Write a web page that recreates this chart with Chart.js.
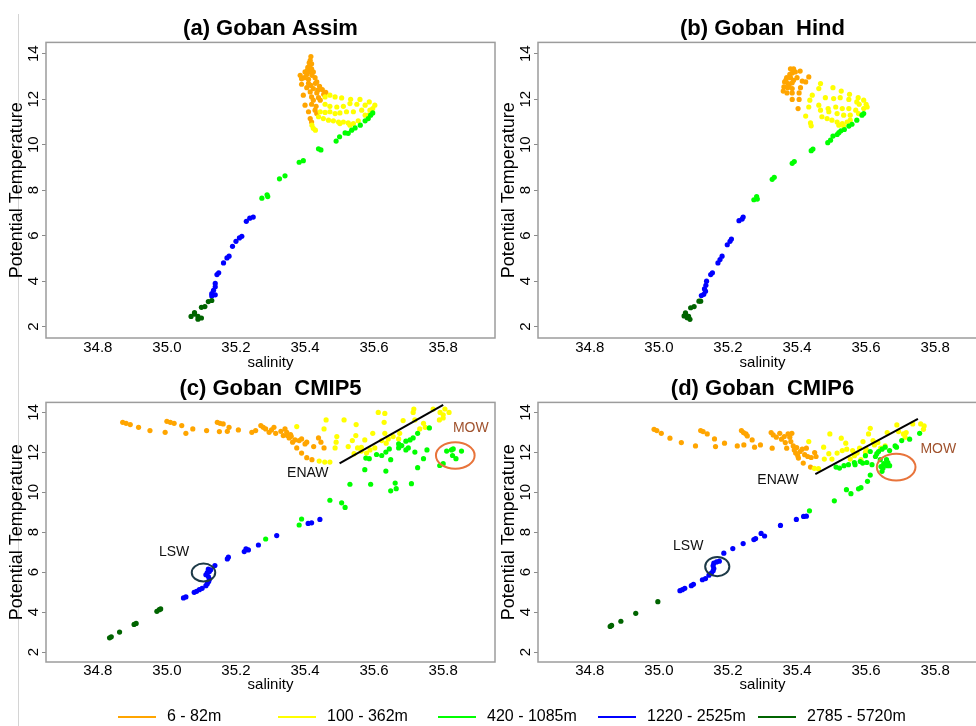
<!DOCTYPE html>
<html>
<head>
<meta charset="utf-8">
<title>Goban T-S diagrams</title>
<script src="https://cdn.jsdelivr.net/npm/chart.js@4.4.1/dist/chart.umd.min.js"></script>
<style>
  html, body { margin: 0; padding: 0; background: #fff; }
  #fig { position: relative; width: 976px; height: 726px; overflow: hidden; }
  #fig canvas { position: absolute; }
  #rule { position: absolute; left: 18px; top: 14px; width: 1px; height: 712px; background: #d4d4d4; }
</style>
</head>
<body>
<div id="fig">
  <div id="rule"></div>
  <canvas id="panelA" width="500" height="370" style="left:0;top:0"></canvas>
  <canvas id="panelB" width="500" height="370" style="left:492px;top:0"></canvas>
  <canvas id="panelC" width="500" height="332" style="left:0;top:360px"></canvas>
  <canvas id="panelD" width="500" height="332" style="left:492px;top:360px"></canvas>
  <canvas id="legendRow" width="976" height="36" style="left:0;top:690px"></canvas>
</div>
<script>
'use strict';
Chart.defaults.font.family = "'Liberation Sans', Arial, sans-serif";
Chart.defaults.color = '#000';

// axis ticks
var salTicks = [34.8, 35.0, 35.2, 35.4, 35.6, 35.8];
var tempTicks = [2, 4, 6, 8, 10, 12, 14];

// depth bands
var bandLabels = ['6 - 82m', '100 - 362m', '420 - 1085m', '1220 - 2525m', '2785 - 5720m'];
var bandColors = ['#FFA500', '#FFFF00', '#00FF00', '#0000FF', '#006400'];

/** (a) Assim: [salinity, theta] **/
var assim1 = [[35.417,13.88],[35.415,13.71],[35.412,13.6],[35.419,13.56],[35.413,13.45],[35.408,13.4],[35.419,13.34],[35.407,13.27],
  [35.415,13.2],[35.400,13.2],[35.424,13.2],[35.405,13.09],[35.42,13.05],[35.386,13.05],[35.398,12.95],[35.429,12.95],[35.390,12.9],
  [35.410,12.88],[35.434,12.76],[35.43,12.7],[35.41,12.7],[35.390,12.66],[35.417,12.61],[35.442,12.57],[35.405,12.51],[35.424,12.47],
  [35.450,12.42],[35.437,12.4],[35.415,12.32],[35.46,12.3],[35.434,12.28],[35.454,12.22],[35.395,12.18],[35.419,12.10],[35.439,12.07],
  [35.424,11.96],[35.444,11.96],[35.419,11.78],[35.400,11.74],[35.432,11.69],[35.429,11.52],[35.410,11.45],[35.434,11.37],[35.415,11.15],[35.419,11.00]];
var assim2 = [[35.458,12.10],[35.472,12.18],[35.487,12.10],[35.506,12.06],[35.532,12.00],[35.559,11.99],[35.586,11.88],[35.602,11.74],
  [35.458,11.78],[35.472,11.69],[35.492,11.66],[35.511,11.69],[35.530,11.81],[35.550,11.78],[35.574,11.74],[35.596,11.59],
  [35.444,11.45],[35.458,11.42],[35.472,11.45],[35.487,11.37],[35.501,11.40],[35.520,11.45],[35.540,11.45],[35.564,11.52],[35.588,11.52],
  [35.439,11.23],[35.453,11.15],[35.468,11.08],[35.482,11.05],[35.497,11.00],[35.511,11.00],[35.525,10.96],[35.540,10.93],[35.554,11.05],
  [35.574,11.30],[35.583,11.30],[35.420,10.86],[35.424,10.72],[35.430,10.64],[35.501,10.93],[35.530,10.86]];
var assim3 = [[35.275,7.65],[35.290,7.80],[35.292,7.72],[35.326,8.50],[35.342,8.63],[35.383,9.23],[35.395,9.30],[35.439,9.82],[35.446,9.77],
  [35.490,10.16],[35.500,10.35],[35.516,10.52],[35.525,10.50],[35.535,10.64],[35.545,10.74],[35.560,10.86],[35.574,11.05],[35.583,11.15],
  [35.590,11.30],[35.596,11.40]];
var assim4 = [[35.130,3.35],[35.130,3.45],[35.140,3.40],[35.135,3.60],[35.140,3.75],[35.140,3.90],[35.145,4.29],[35.150,4.37],[35.164,4.80],
  [35.174,5.02],[35.180,5.10],[35.190,5.53],[35.200,5.75],[35.210,5.90],[35.217,5.97],[35.230,6.63],[35.240,6.77],[35.250,6.82]];
var assim5 = [[35.070,2.45],[35.080,2.55],[35.080,2.62],[35.090,2.45],[35.090,2.33],[35.100,2.38],[35.100,2.85],[35.110,2.88],[35.120,3.10],[35.130,3.15]];

/** (b) Hind **/
var hind1 = [[35.381,13.34],[35.390,13.34],[35.386,13.15],[35.379,13.09],[35.395,13.20],[35.409,13.24],[35.370,12.95],[35.381,12.95],
  [35.390,12.83],[35.400,12.95],[35.434,12.98],[35.425,12.76],[35.364,12.76],[35.374,12.69],[35.386,12.72],[35.362,12.54],[35.373,12.51],
  [35.386,12.47],[35.410,12.51],[35.360,12.36],[35.371,12.28],[35.386,12.28],[35.406,12.28],[35.386,11.99],[35.406,11.99],[35.403,11.59],
  [35.415,12.80],[35.377,12.62],[35.368,12.85]];
var hind2 = [[35.468,12.69],[35.463,12.47],[35.504,12.51],[35.528,12.36],[35.552,12.22],[35.577,12.07],[35.593,11.96],
  [35.444,12.18],[35.482,12.07],[35.506,12.03],[35.525,12.07],[35.550,11.99],[35.573,11.88],[35.600,11.78],[35.580,11.78],
  [35.437,11.96],[35.463,11.74],[35.490,11.59],[35.512,11.66],[35.531,11.59],[35.550,11.59],[35.570,11.52],[35.593,11.59],[35.603,11.66],
  [35.434,11.66],[35.468,11.52],[35.492,11.45],[35.516,11.37],[35.535,11.30],[35.554,11.30],[35.578,11.37],
  [35.425,11.26],[35.472,11.23],[35.487,11.15],[35.501,11.08],[35.516,11.00],[35.531,10.93],[35.545,11.00],[35.554,11.08],
  [35.439,10.96],[35.441,10.83],[35.521,10.86],[35.535,10.82]];
var hind3 = [[35.275,7.58],[35.283,7.72],[35.285,7.61],[35.328,8.48],[35.334,8.57],[35.386,9.18],[35.392,9.26],[35.441,9.74],[35.446,9.81],
  [35.489,10.09],[35.497,10.20],[35.504,10.38],[35.516,10.45],[35.521,10.53],[35.527,10.61],[35.537,10.67],[35.550,10.82],[35.559,10.90],
  [35.573,11.08],[35.588,11.30],[35.593,11.37]];
var hind4 = [[35.123,3.37],[35.130,3.42],[35.135,3.56],[35.132,3.66],[35.136,3.82],[35.138,4.00],[35.150,4.29],[35.155,4.37],[35.171,4.80],
  [35.177,4.95],[35.183,5.10],[35.198,5.60],[35.206,5.75],[35.210,5.85],[35.232,6.66],[35.241,6.73],[35.244,6.82]];
var hind5 = [[35.073,2.47],[35.077,2.61],[35.082,2.39],[35.090,2.32],[35.092,2.83],[35.102,2.88],[35.116,3.12],[35.121,3.12],[35.078,2.52],[35.086,2.45]];

/** (c) CMIP5 **/
var cmip5_1 = [[34.872,13.50],[34.882,13.45],[34.894,13.39],[34.918,13.25],[34.951,13.09],[34.995,13.00],[35.000,13.55],[35.010,13.50],
  [35.021,13.45],[35.043,13.34],[35.055,12.95],[35.075,13.17],[35.115,13.09],[35.146,13.50],[35.154,13.45],[35.152,13.04],[35.163,13.42],
  [35.175,13.05],[35.180,13.25],[35.207,13.12],[35.246,13.00],[35.257,13.09],[35.272,13.34],[35.279,13.25],[35.286,13.17],[35.296,13.00],
  [35.303,13.12],[35.310,13.25],[35.315,12.95],[35.330,13.05],[35.342,13.17],[35.347,13.00],[35.349,12.84],[35.354,12.72],[35.358,12.89],
  [35.364,12.51],[35.371,12.62],[35.376,12.22],[35.383,12.59],[35.390,12.67],[35.390,11.96],[35.400,12.42],[35.405,12.51],[35.405,11.73],
  [35.420,11.63],[35.425,12.29],[35.439,12.72],[35.446,12.51],[35.455,12.22],[35.337,12.84],[35.360,12.80]];
var cmip5_2 = [[35.376,13.29],[35.441,11.56],[35.457,11.51],[35.472,11.51],[35.461,13.62],[35.455,13.17],[35.487,12.22],[35.490,12.51],
  [35.492,12.79],[35.513,13.62],[35.525,12.29],[35.537,12.59],[35.547,12.84],[35.548,13.39],[35.552,12.22],[35.563,12.25],[35.573,12.62],
  [35.578,11.96],[35.588,12.12],[35.596,12.95],[35.602,12.22],[35.612,14.00],[35.622,12.59],[35.629,13.50],[35.631,13.95],[35.631,12.95],
  [35.635,12.46],[35.641,12.67],[35.655,12.79],[35.671,12.67],[35.674,12.95],[35.684,13.59],[35.713,14.00],[35.715,14.17],[35.718,13.62],
  [35.732,13.17],[35.743,13.45],[35.748,13.25],[35.771,14.17],[35.789,13.62],[35.791,14.00],[35.800,13.72],[35.805,14.17],[35.817,14.00],
  [35.800,13.88],[35.542,11.93],[35.563,12.06]];
var cmip5_3 = [[35.286,7.66],[35.383,8.36],[35.390,8.66],[35.472,9.60],[35.506,9.47],[35.516,9.24],[35.530,10.40],[35.590,10.40],
  [35.573,11.13],[35.576,11.71],[35.586,11.68],[35.607,11.89],[35.622,11.84],[35.634,12.01],[35.634,11.06],[35.644,12.17],[35.648,11.63],
  [35.648,10.07],[35.661,10.46],[35.664,10.18],[35.671,12.42],[35.671,12.22],[35.692,12.56],[35.692,12.12],[35.699,12.22],[35.704,12.62],
  [35.708,10.43],[35.718,12.01],[35.726,12.95],[35.726,11.23],[35.743,11.68],[35.753,12.12],[35.760,13.22],[35.790,11.34],[35.800,11.43],
  [35.810,12.06],[35.824,12.12],[35.827,11.84],[35.837,11.68],[35.853,12.06],[35.829,12.17],[35.713,12.72],[35.680,12.34]];
var cmip5_4 = [[35.048,4.71],[35.055,4.76],[35.079,4.99],[35.086,5.04],[35.094,5.12],[35.102,5.19],[35.113,5.32],[35.117,5.42],[35.121,5.53],
  [35.123,5.65],[35.120,5.78],[35.113,5.87],[35.117,5.98],[35.123,6.03],[35.120,6.15],[35.127,6.12],[35.139,6.33],[35.175,6.66],[35.178,6.75],
  [35.224,7.03],[35.229,7.16],[35.236,7.11],[35.265,7.36],[35.318,7.83],[35.409,8.44],[35.419,8.47],[35.443,8.64]];
var cmip5_5 = [[34.834,2.71],[34.839,2.76],[34.863,3.00],[34.905,3.38],[34.911,3.43],[34.971,4.04],[34.978,4.12],[34.982,4.16]];

/** (d) CMIP6 **/
var cmip6_1 = [[34.986,13.15],[34.994,13.09],[35.007,12.95],[35.032,12.71],[35.065,12.49],[35.106,12.32],[35.121,13.09],[35.128,13.04],
  [35.140,12.92],[35.161,12.67],[35.164,12.29],[35.190,12.46],[35.227,12.32],[35.239,13.09],[35.245,12.99],[35.252,12.92],[35.256,12.82],
  [35.246,12.37],[35.270,12.62],[35.277,12.26],[35.294,12.37],[35.325,12.99],[35.331,12.87],[35.328,12.21],[35.340,12.76],[35.350,12.95],
  [35.355,12.66],[35.363,12.79],[35.366,12.49],[35.370,12.21],[35.374,12.92],[35.379,12.76],[35.382,12.54],[35.389,12.32],[35.392,12.12],
  [35.396,11.96],[35.399,12.24],[35.404,11.71],[35.409,12.04],[35.415,12.16],[35.418,11.46],[35.422,11.88],[35.427,12.21],[35.431,11.79],
  [35.439,11.26],[35.441,11.74],[35.451,11.99],[35.455,11.79],[35.402,11.83],[35.385,12.95]];
var cmip6_2 = [[35.434,12.54],[35.477,12.26],[35.479,11.66],[35.492,11.93],[35.495,12.92],[35.501,11.66],[35.516,11.96],[35.528,12.71],
  [35.531,12.09],[35.541,12.46],[35.554,11.66],[35.561,12.09],[35.566,11.83],[35.574,11.96],[35.581,12.21],[35.585,11.63],[35.591,12.54],
  [35.598,12.00],[35.600,12.16],[35.607,12.92],[35.612,13.20],[35.620,12.59],[35.624,12.37],[35.634,12.49],[35.642,12.21],[35.655,12.32],
  [35.661,12.99],[35.689,13.37],[35.694,13.04],[35.708,12.92],[35.713,12.76],[35.716,12.99],[35.735,13.42],[35.758,13.42],[35.768,13.32],
  [35.766,13.15],[35.544,12.16],[35.450,11.20],[35.462,11.18]];
var cmip6_3 = [[35.436,9.07],[35.508,9.57],[35.543,10.13],[35.556,9.93],[35.578,10.17],[35.585,10.23],[35.604,10.55],[35.612,10.86],
  [35.513,11.26],[35.523,11.21],[35.536,11.33],[35.549,11.38],[35.566,11.49],[35.568,11.38],[35.583,11.54],[35.590,11.46],[35.602,11.49],
  [35.617,11.38],[35.627,11.79],[35.631,11.93],[35.636,12.04],[35.641,11.63],[35.643,11.29],[35.646,11.05],[35.649,11.21],[35.651,11.43],
  [35.659,11.63],[35.661,11.33],[35.663,11.49],[35.668,11.33],[35.668,12.09],[35.646,12.16],[35.655,12.26],[35.684,12.32],[35.688,12.26],
  [35.703,12.59],[35.726,12.66],[35.755,12.95],[35.598,11.83],[35.612,12.04]];
var cmip6_4 = [[35.061,5.07],[35.068,5.12],[35.075,5.19],[35.094,5.32],[35.100,5.39],[35.126,5.62],[35.135,5.68],[35.145,5.85],[35.152,5.95],
  [35.157,6.07],[35.159,6.18],[35.157,6.32],[35.159,6.45],[35.167,6.51],[35.175,6.55],[35.188,6.95],[35.214,7.18],[35.244,7.43],[35.275,7.63],
  [35.280,7.68],[35.296,7.94],[35.306,7.81],[35.352,8.34],[35.398,8.64],[35.419,8.79],[35.427,8.80]];
var cmip6_5 = [[34.859,3.28],[34.863,3.33],[34.890,3.54],[34.933,3.94],[34.997,4.52]];

// water-mass annotations (salinity, theta)
var cmip5Notes = {
  lines: [[[35.50, 11.45], [35.80, 14.38]]],
  rings: [
    { c: [35.106, 5.98], r: [0.034, 0.45], color: '#1d3a48' },
    { c: [35.835, 11.84], r: [0.056, 0.66], color: '#e8743b' }
  ],
  labels: [
    { text: 'ENAW', at: [35.408, 10.95], color: '#111' },
    { text: 'LSW', at: [35.021, 6.98], color: '#111' },
    { text: 'MOW', at: [35.880, 13.19], color: '#a0522d' }
  ]
};
var cmip6Notes = {
  lines: [[[35.453, 10.91], [35.75, 13.68]]],
  rings: [
    { c: [35.169, 6.28], r: [0.035, 0.48], color: '#1d3a48' },
    { c: [35.687, 11.26], r: [0.056, 0.67], color: '#e8743b' }
  ],
  labels: [
    { text: 'ENAW', at: [35.345, 10.59], color: '#111' },
    { text: 'LSW', at: [35.085, 7.29], color: '#111' },
    { text: 'MOW', at: [35.809, 12.16], color: '#a0522d' }
  ]
};

// grey box round the plotting region
var frame = {
  id: 'frame',
  beforeDatasetsDraw: function(chart) {
    var a = chart.chartArea, ctx = chart.ctx;
    ctx.save();
    ctx.strokeStyle = '#9c9c9c';
    ctx.lineWidth = 1.5;
    ctx.strokeRect(a.left, a.top, a.right - a.left, a.bottom - a.top);
    ctx.restore();
  }
};

function waterMasses(notes) {
  return {
    id: 'waterMasses',
    afterDatasetsDraw: function(chart) {
      var ctx = chart.ctx, sx = chart.scales.x, sy = chart.scales.y;
      ctx.save();
      notes.lines.forEach(function(l) {
        ctx.strokeStyle = '#000';
        ctx.lineWidth = 2;
        ctx.beginPath();
        ctx.moveTo(sx.getPixelForValue(l[0][0]), sy.getPixelForValue(l[0][1]));
        ctx.lineTo(sx.getPixelForValue(l[1][0]), sy.getPixelForValue(l[1][1]));
        ctx.stroke();
      });
      notes.rings.forEach(function(r) {
        var cx = sx.getPixelForValue(r.c[0]), cy = sy.getPixelForValue(r.c[1]);
        var rx = Math.abs(sx.getPixelForValue(r.c[0] + r.r[0]) - cx);
        var ry = Math.abs(sy.getPixelForValue(r.c[1] + r.r[1]) - cy);
        ctx.strokeStyle = r.color;
        ctx.lineWidth = 2;
        ctx.beginPath();
        ctx.ellipse(cx, cy, rx, ry, 0, 0, Math.PI * 2);
        ctx.stroke();
      });
      ctx.font = "14px 'Liberation Sans', Arial, sans-serif";
      ctx.textAlign = 'center';
      ctx.textBaseline = 'middle';
      notes.labels.forEach(function(t) {
        ctx.fillStyle = t.color;
        ctx.fillText(t.text, sx.getPixelForValue(t.at[0]), sy.getPixelForValue(t.at[1]));
      });
      ctx.restore();
    }
  };
}

function makePanel(id, title, bands, notes, axisH, tickPad) {
  var datasets = bands.map(function(pts, i) {
    return {
      label: bandLabels[i],
      data: pts.map(function(p) { return { x: p[0], y: p[1] }; }),
      backgroundColor: bandColors[i],
      borderWidth: 0,
      pointRadius: 2.6,
      order: bands.length - i
    };
  });
  var plugins = [frame];
  if (notes) plugins.push(waterMasses(notes));
  return new Chart(document.getElementById(id), {
    type: 'scatter',
    data: { datasets: datasets },
    options: {
      responsive: false,
      animation: false,
      events: [],
      layout: { padding: { left: 0, right: 5, top: 0, bottom: 0 } },
      plugins: {
        legend: { display: false },
        tooltip: { enabled: false },
        title: {
          display: true,
          text: title,
          fullSize: false,
          color: '#000',
          font: { size: 22, weight: 'bold' },
          padding: { top: 16, bottom: 0 }
        }
      },
      scales: {
        x: {
          type: 'linear',
          min: 34.65,
          max: 35.95,
          afterBuildTicks: function(s) { s.ticks = salTicks.map(function(v) { return { value: v }; }); },
          afterFit: function(s) { s.height = axisH; },
          grid: { display: false },
          border: { display: false },
          ticks: {
            font: { size: 15 },
            padding: tickPad,
            maxRotation: 0,
            autoSkip: false,
            callback: function(v) { return v.toFixed(1); }
          },
          title: { display: true, text: 'salinity', font: { size: 15 }, padding: { top: 0, bottom: -2 } }
        },
        y: {
          type: 'linear',
          min: 1.5,
          max: 14.5,
          afterBuildTicks: function(s) { s.ticks = tempTicks.map(function(v) { return { value: v }; }); },
          afterFit: function(s) { s.width = 46; },
          grid: { drawOnChartArea: false, drawTicks: true, tickLength: 4, color: '#8a8a8a' },
          border: { display: false },
          ticks: { font: { size: 15 }, padding: 0, minRotation: 90, maxRotation: 90, crossAlign: 'center', autoSkip: false },
          title: { display: true, text: 'Potential Temperature', font: { size: 18 }, padding: { top: 6 } }
        }
      }
    },
    plugins: plugins
  });
}

makePanel('panelA', '(a) Goban Assim', [assim1, assim2, assim3, assim4, assim5], null, 32, -7);
makePanel('panelB', '(b) Goban  Hind', [hind1, hind2, hind3, hind4, hind5], null, 32, -7);
makePanel('panelC', '(c) Goban  CMIP5', [cmip5_1, cmip5_2, cmip5_3, cmip5_4, cmip5_5], cmip5Notes, 30, -8);
makePanel('panelD', '(d) Goban  CMIP6', [cmip6_1, cmip6_2, cmip6_3, cmip6_4, cmip6_5], cmip6Notes, 30, -8);

// shared key along the bottom, equal-width columns
var keyRow = {
  id: 'keyRow',
  afterDraw: function(chart) {
    var ctx = chart.ctx, y = 27;
    ctx.save();
    ctx.font = "16px 'Liberation Sans', Arial, sans-serif";
    ctx.textBaseline = 'middle';
    chart.data.datasets.forEach(function(ds, i) {
      var x0 = 118 + i * 160;
      ctx.strokeStyle = ds.borderColor;
      ctx.lineWidth = 2;
      ctx.beginPath();
      ctx.moveTo(x0, y);
      ctx.lineTo(x0 + 38, y);
      ctx.stroke();
      ctx.fillStyle = '#000';
      ctx.fillText(ds.label, x0 + 49, y);
    });
    ctx.restore();
  }
};
new Chart(document.getElementById('legendRow'), {
  type: 'scatter',
  data: {
    datasets: bandLabels.map(function(lab, i) {
      return { label: lab, data: [], borderColor: bandColors[i], backgroundColor: bandColors[i] };
    })
  },
  options: {
    responsive: false,
    animation: false,
    events: [],
    plugins: { legend: { display: false }, tooltip: { enabled: false } },
    scales: { x: { display: false }, y: { display: false } }
  },
  plugins: [keyRow]
});
</script>
</body>
</html>
